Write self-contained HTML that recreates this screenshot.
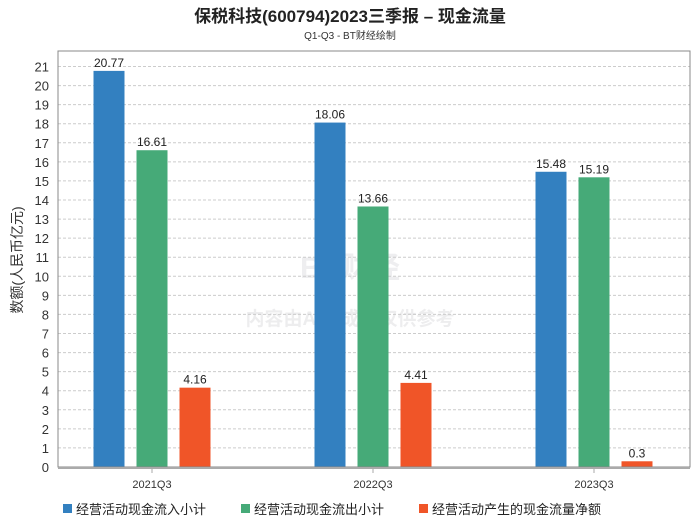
<!DOCTYPE html>
<html><head><meta charset="utf-8"><style>
body{margin:0;background:#fff;font-family:"Liberation Sans","Noto Sans CJK SC",sans-serif}
</style></head><body>
<svg width="700" height="524" xmlns="http://www.w3.org/2000/svg" font-family="Liberation Sans, Noto Sans CJK SC, sans-serif">
<text x="350" y="22" text-anchor="middle" font-size="17" font-weight="bold" fill="#222">保税科技(600794)2023三季报 – 现金流量</text>
<text x="350" y="39" text-anchor="middle" font-size="10" fill="#333">Q1-Q3 - BT财经绘制</text>
<text transform="translate(22,260) rotate(-90)" text-anchor="middle" font-size="14" fill="#333">数额(人民币亿元)</text>
<g opacity="0.1"><text x="350" y="278" text-anchor="middle" font-size="30" font-weight="bold" fill="#667">BT财经</text><text x="350" y="325" text-anchor="middle" font-size="19" font-weight="bold" fill="#556">内容由AI生成，仅供参考</text></g>
<g id="grid"></g><g id="bars"></g><g id="labels"></g>
<rect x="58" y="51" width="632" height="416" fill="none" stroke="#888"/>
<line x1="58" y1="468" x2="690" y2="468" stroke="#aaa" stroke-width="2"/>
<g id="legend" font-size="13" fill="#222">
<rect x="63" y="504" width="9" height="9" fill="#3380c0"/><text x="76" y="514">经营活动现金流入小计</text>
<rect x="241" y="504" width="9" height="9" fill="#46aa78"/><text x="254" y="514">经营活动现金流出小计</text>
<rect x="419" y="504" width="9" height="9" fill="#f05528"/><text x="432" y="514">经营活动产生的现金流量净额</text>
</g>
</svg>
<script>
const categories=["2021Q3","2022Q3","2023Q3"];
const inflow=[20.77,18.06,15.48];
const outflow=[16.61,13.66,15.19];
const net=[4.16,4.41,0.3];
const yTicks=[0,1,2,3,4,5,6,7,8,9,10,11,12,13,14,15,16,17,18,19,20,21];
const seriesColors=["#3380c0","#46aa78","#f05528"];
const seriesNames=["inflow","outflow","net"];
const NS="http://www.w3.org/2000/svg";
const y=v=>467-v*(400.5/21);
const xc=i=>152+i*221;
const bw=31,step=43;
function mk(t,a,p){const e=document.createElementNS(NS,t);for(const k in a)e.setAttribute(k,a[k]);p.appendChild(e);return e;}
const grid=document.getElementById('grid');
yTicks.forEach(t=>{
 if(t>0){const l=mk('line',{x1:58,x2:690,y1:y(t),y2:y(t),stroke:'#ccc','stroke-dasharray':'3,2'},grid);
 
 }
 const tx=mk('text',{x:49,y:y(t)+5,'text-anchor':'end','font-size':13,fill:'#333'},grid);tx.textContent=t;
 
 
});
const bars=document.getElementById('bars'),labels=document.getElementById('labels');
[inflow,outflow,net].forEach((s,si)=>{
 s.forEach((v,i)=>{
  const x=xc(i)+(si-1)*step-bw/2;
  const r=mk('rect',{x:x,y:y(v),width:bw,height:467-y(v),fill:seriesColors[si]},bars);
  
  
  const t=mk('text',{x:x+bw/2,y:y(v)-4,'text-anchor':'middle','font-size':12,fill:'#222'},labels);t.textContent=v;
  
  
 });
});
categories.forEach((c,i)=>{
 const tk=mk('line',{x1:xc(i),x2:xc(i),y1:469,y2:473,stroke:'#aaa'},labels);
 
 
 const t=mk('text',{x:xc(i),y:488,'text-anchor':'middle','font-size':11,fill:'#333'},labels);t.textContent=c;
 
 
});
</script>
</body></html>
